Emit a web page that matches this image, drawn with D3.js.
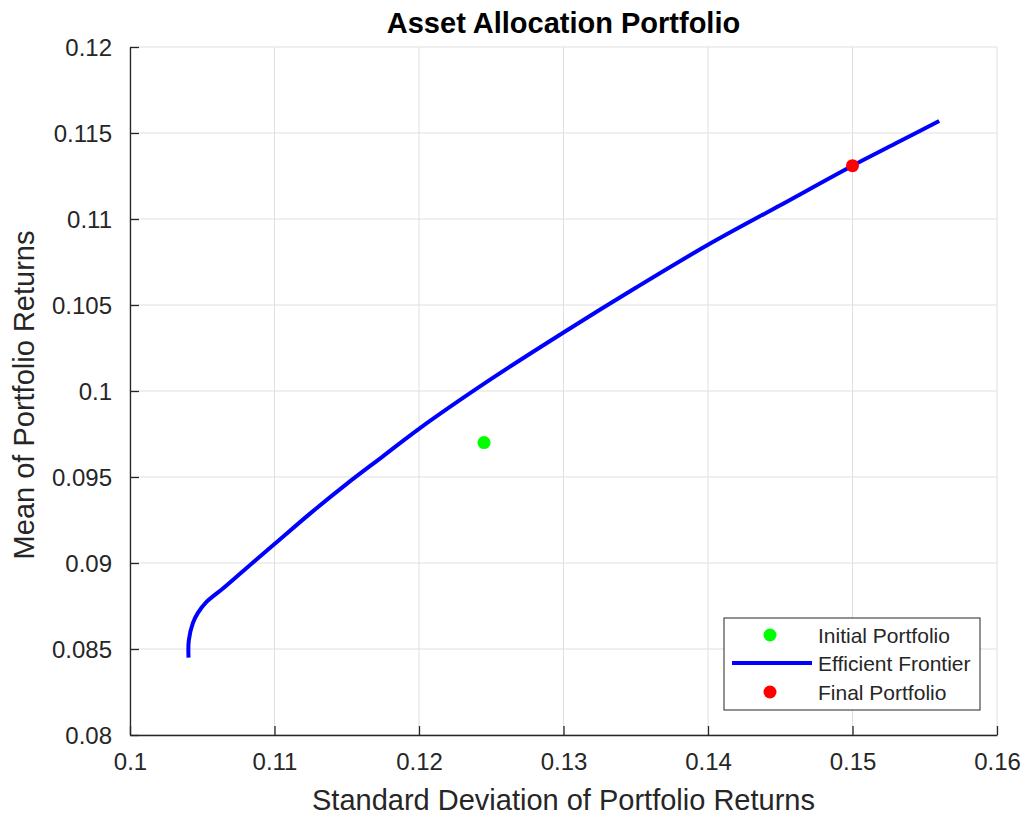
<!DOCTYPE html>
<html>
<head>
<meta charset="utf-8">
<script src="https://cdn.jsdelivr.net/npm/d3@7"></script>
<style>
  html, body { margin: 0; padding: 0; background: #fff; }
  svg { display: block; font-family: "Liberation Sans", Arial, Helvetica, sans-serif; }
</style>
</head>
<body>
<svg id="chart" width="1026" height="815"></svg>
<script>
// ---- data ----
const xTicks = [0.1, 0.11, 0.12, 0.13, 0.14, 0.15, 0.16];
const yTicks = [0.08, 0.085, 0.09, 0.095, 0.1, 0.105, 0.11, 0.115, 0.12];
const frontierRisk = [0.10405, 0.10407, 0.10435, 0.1047, 0.10528, 0.10643, 0.10805, 0.110, 0.1125, 0.115, 0.1175, 0.120, 0.125, 0.130, 0.135, 0.140, 0.145, 0.150, 0.153, 0.156];
const frontierReturn = [0.0845, 0.0855, 0.0865, 0.0871, 0.08772, 0.08852, 0.0897, 0.0911, 0.0929, 0.0946, 0.0962, 0.0978, 0.1007, 0.1034, 0.1060, 0.1085, 0.1108, 0.1131, 0.1144, 0.1157];
const initialPortfolio = [0.1245, 0.0970];
const finalPortfolio = [0.1500, 0.1131];
const legendLabels = ["Initial Portfolio", "Efficient Frontier", "Final Portfolio"];
const titleText = "Asset Allocation Portfolio";
const xLabelText = "Standard Deviation of Portfolio Returns";
const yLabelText = "Mean of Portfolio Returns";

// ---- layout ----
const svg = d3.select("#chart");
const L = 130, R = 997, T = 47, B = 735;
const x = d3.scaleLinear().domain([0.1, 0.16]).range([L, R]);
const y = d3.scaleLinear().domain([0.08, 0.12]).range([B, T]);
const axisColor = "#262626";
const gridColor = "#dfdfdf";

// grid
const g = svg.append("g");
g.selectAll(".gx").data(xTicks).enter().append("line")
  .attr("x1", d => x(d)).attr("x2", d => x(d)).attr("y1", T).attr("y2", B)
  .attr("stroke", gridColor).attr("stroke-width", 1);
g.selectAll(".gy").data(yTicks).enter().append("line")
  .attr("y1", d => y(d)).attr("y2", d => y(d)).attr("x1", L).attr("x2", R)
  .attr("stroke", gridColor).attr("stroke-width", 1);

// axes
const fmt = d => String(+d.toFixed(3));
const xAxis = d3.axisBottom(x).tickValues(xTicks).tickSizeInner(-9).tickSizeOuter(0).tickFormat(fmt);
const yAxis = d3.axisLeft(y).tickValues(yTicks).tickSizeInner(-9).tickSizeOuter(0).tickFormat(fmt);

const gx = svg.append("g").attr("transform", `translate(0,${B})`).call(xAxis);
const gy = svg.append("g").attr("transform", `translate(${L},0)`).call(yAxis);
[gx, gy].forEach(a => {
  a.select(".domain").attr("stroke", axisColor).attr("stroke-width", 1.3);
  a.selectAll(".tick line").attr("stroke", axisColor).attr("stroke-width", 1.3);
  a.selectAll(".tick text").attr("fill", axisColor).style("font-size", "24px")
    .style("font-family", "'Liberation Sans', Arial, sans-serif");
});
gx.selectAll(".tick text").attr("dy", "0.71em").attr("y", 18);
gy.selectAll(".tick text").attr("dy", "0.36em").attr("x", -18);

// title and labels
svg.append("text").attr("x", (L + R) / 2).attr("y", 33).attr("text-anchor", "middle")
  .style("font-size", "29px").style("font-weight", "bold").attr("fill", "#000").text(titleText);
svg.append("text").attr("x", (L + R) / 2).attr("y", 810).attr("text-anchor", "middle")
  .style("font-size", "29px").attr("fill", axisColor).text(xLabelText);
svg.append("text").attr("transform", `translate(34,${(T + B) / 2 + 4}) rotate(-90)`).attr("text-anchor", "middle")
  .style("font-size", "29px").attr("fill", axisColor).text(yLabelText);

// frontier
const pts = frontierRisk.map((r, i) => [r, frontierReturn[i]]);
const line = d3.line().x(d => x(d[0])).y(d => y(d[1])).curve(d3.curveCatmullRom.alpha(0.5));
svg.append("path").datum(pts).attr("d", line).attr("fill", "none")
  .attr("stroke", "#0000ff").attr("stroke-width", 4);

// points
svg.append("circle").attr("cx", x(initialPortfolio[0])).attr("cy", y(initialPortfolio[1])).attr("r", 6.5).attr("fill", "#00ff00");
svg.append("circle").attr("cx", x(finalPortfolio[0])).attr("cy", y(finalPortfolio[1])).attr("r", 6.5).attr("fill", "#ff0000");

// legend
const lg = svg.append("g").attr("transform", "translate(724,618)");
lg.append("rect").attr("width", 256).attr("height", 92).attr("fill", "#fff")
  .attr("stroke", axisColor).attr("stroke-width", 1);
const rowY = [17, 45, 74];
lg.append("circle").attr("cx", 46).attr("cy", rowY[0]).attr("r", 6.5).attr("fill", "#00ff00");
lg.append("line").attr("x1", 8).attr("x2", 88).attr("y1", rowY[1]).attr("y2", rowY[1])
  .attr("stroke", "#0000ff").attr("stroke-width", 4);
lg.append("circle").attr("cx", 46).attr("cy", rowY[2]).attr("r", 6.5).attr("fill", "#ff0000");
lg.selectAll("text.lt").data(legendLabels).enter().append("text")
  .attr("x", 94).attr("y", (d, i) => rowY[i]).attr("dy", "0.36em")
  .style("font-size", "21px").attr("fill", axisColor).text(d => d);
</script>
</body>
</html>
